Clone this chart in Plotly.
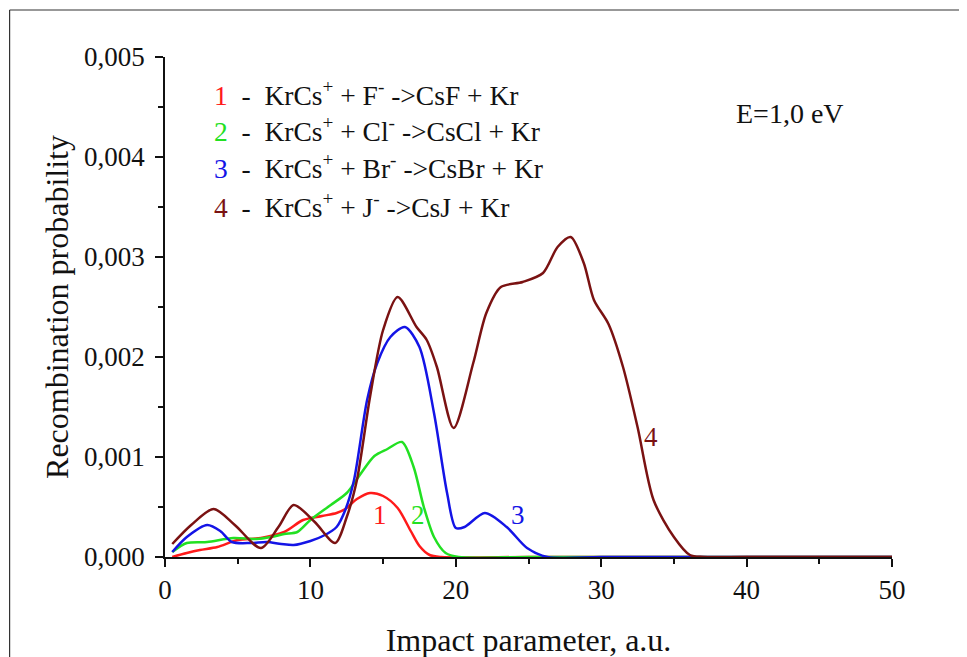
import plotly.graph_objects as go

# ---- data ----
x_f = [0.5, 1.5, 2.4, 3.6, 5.0, 6.6, 8.2, 9.5, 10.8, 11.8, 12.4, 13.2, 14.1, 15.0, 16.0, 16.9, 17.5, 18.2, 19.0, 25, 35, 50]
y_f = [0.0, 0.00004, 0.00007, 0.0001, 0.00017, 0.00019, 0.00025, 0.00037, 0.00041, 0.00044, 0.00048, 0.00058, 0.00064, 0.00061, 0.00049, 0.00026, 0.00011, 0.00002, 0.0, 0.0, 0.0, 0.0]

x_cl = [0.5, 1.5, 2.9, 4.7, 6.3, 7.3, 8.2, 9.1, 10.0, 11.4, 12.5, 13.4, 14.4, 15.3, 16.3, 17.1, 17.8, 18.5, 19.3, 20.2, 25, 35, 50]
y_cl = [0.00005, 0.00014, 0.00015, 0.00019, 0.00018, 0.0002, 0.00023, 0.00025, 0.00037, 0.00052, 0.00064, 0.00082, 0.00101, 0.00108, 0.00115, 0.0009, 0.0005, 0.0002, 0.00004, 0.0, 0.0, 0.0, 0.0]

x_br = [0.5, 1.5, 2.9, 3.8, 4.6, 5.9, 7.0, 8.0, 8.85, 10.0, 11.0, 11.8, 12.4, 13.0, 13.9, 14.6, 15.5, 16.5, 17.5, 18.5, 19.4, 20.0, 20.6, 22.0, 23.5, 24.9, 26.3, 30, 40, 50]
y_br = [0.00005, 0.0002, 0.00032, 0.00026, 0.00015, 0.00014, 0.00015, 0.00013, 0.00012, 0.00016, 0.00022, 0.0003, 0.00047, 0.00077, 0.00157, 0.00194, 0.0022, 0.0023, 0.0021, 0.00144, 0.00064, 0.00029, 0.0003, 0.00044, 0.0003, 0.00009, 0.0, 0.0, 0.0, 0.0]

x_j = [0.5, 1.8, 3.35, 4.8, 6.6, 7.8, 8.85, 10.3, 11.7, 12.5, 13.2, 14.1, 15.0, 16.0, 17.3, 18.0, 18.7, 19.85, 21.2, 22.1, 23.1, 24.6, 26.0, 27.0, 27.9, 28.8, 29.5, 30.5, 31.5, 32.5, 33.6, 35.0, 36.1, 37.0, 40, 50]
y_j = [0.00013, 0.00032, 0.00048, 0.00032, 0.00009, 0.0003, 0.00052, 0.00035, 0.00014, 0.0004, 0.00077, 0.0016, 0.00227, 0.0026, 0.0023, 0.00217, 0.0019, 0.00129, 0.00194, 0.00244, 0.0027, 0.00275, 0.00284, 0.0031, 0.0032, 0.00294, 0.00257, 0.00233, 0.0019, 0.0013, 0.00057, 0.0002, 0.00002, 0.0, 0.0, 0.0]

series = [
    ("1", x_f, y_f, "#FF1A1A"),
    ("2", x_cl, y_cl, "#22E022"),
    ("3", x_br, y_br, "#1414E6"),
    ("4", x_j, y_j, "#7A1212"),
]

legend_lines = [
    ("1", "KrCs<sup>+</sup> + F<sup>-</sup> ->CsF + Kr"),
    ("2", "KrCs<sup>+</sup> + Cl<sup>-</sup> ->CsCl + Kr"),
    ("3", "KrCs<sup>+</sup> + Br<sup>-</sup> ->CsBr + Kr"),
    ("4", "KrCs<sup>+</sup> + J<sup>-</sup> ->CsJ + Kr"),
]
legend_y = [0.00464, 0.00428, 0.00391, 0.00352]

curve_labels = [("1", 14.8, 0.00042), ("2", 17.4, 0.00042), ("3", 24.3, 0.00042), ("4", 33.4, 0.0012)]

x_ticks = [0, 10, 20, 30, 40, 50]
y_ticks = [0.0, 0.001, 0.002, 0.003, 0.004, 0.005]

FONT = "Liberation Serif, Times New Roman, serif"
OFF = 8  # default page body margin

fig = go.Figure()
for name, xs, ys, col in series:
    fig.add_trace(go.Scatter(x=xs, y=ys, mode="lines", name=name,
                             line=dict(color=col, width=2.5, shape="spline", smoothing=0.8),
                             showlegend=False, hoverinfo="skip"))

ann = []
col_map = {s[0]: s[3] for s in series}
for (num, txt), yy in zip(legend_lines, legend_y):
    ann.append(dict(x=3.26, y=yy, xref="x", yref="y", xanchor="left", yanchor="middle",
                    showarrow=False,
                    text=f'<span style="color:{col_map[num]}">{num}</span>\u00a0\u00a0-\u00a0\u00a0{txt}',
                    font=dict(family=FONT, size=27.5, color="#111111")))
for num, xx, yy in curve_labels:
    ann.append(dict(x=xx, y=yy, xref="x", yref="y", showarrow=False, text=num,
                    font=dict(family=FONT, size=27, color=col_map[num])))
ann.append(dict(x=43.0, y=0.00444, xref="x", yref="y", showarrow=False, text="E=1,0 eV",
                font=dict(family=FONT, size=28, color="#111111")))

# outer frame (left, right, top edges), in paper units of the plot area
PW, PH = 727.5, 500.0
def px_x(p):
    return (p - 164.5) / PW
def px_y(p):
    return (557 - p) / PH
frame_col = "#333333"
shapes = [
    dict(type="line", xref="paper", yref="paper", x0=px_x(9), x1=px_x(9), y0=px_y(10), y1=px_y(700),
         line=dict(color=frame_col, width=1.2)),
    dict(type="line", xref="paper", yref="paper", x0=px_x(962), x1=px_x(962), y0=px_y(10), y1=px_y(700),
         line=dict(color=frame_col, width=1.2)),
    dict(type="line", xref="paper", yref="paper", x0=px_x(9), x1=px_x(962), y0=px_y(10), y1=px_y(10),
         line=dict(color=frame_col, width=1.2)),
]

fig.update_layout(
    width=967, height=657,
    margin=dict(l=164.5 - OFF, r=75 + OFF, t=57 - OFF, b=100 + OFF),
    paper_bgcolor="white", plot_bgcolor="white",
    separators=", ",
    font=dict(family=FONT, color="#111111"),
    annotations=ann,
    shapes=shapes,
)
fig.update_xaxes(range=[0, 50], tickvals=x_ticks, ticktext=[str(v) for v in x_ticks],
                 showgrid=False, zeroline=False, showline=True, linecolor="#111111", linewidth=1.6,
                 ticks="outside", ticklen=8, tickwidth=1.6, tickcolor="#111111",
                 minor=dict(ticks="outside", dtick=5, ticklen=5, tickwidth=1.6, tickcolor="#111111"),
                 tickfont=dict(family=FONT, size=27, color="#111111"),
                 title=dict(text="Impact parameter, a.u.", font=dict(family=FONT, size=32, color="#111111"), standoff=24),
                 layer="below traces")
fig.update_yaxes(range=[0, 0.005], tickvals=y_ticks, tickformat=".3f",
                 showgrid=False, zeroline=False, showline=True, linecolor="#111111", linewidth=1.6,
                 ticks="outside", ticklen=8, tickwidth=1.6, tickcolor="#111111",
                 minor=dict(ticks="outside", dtick=0.0005, ticklen=5, tickwidth=1.6, tickcolor="#111111"),
                 tickfont=dict(family=FONT, size=27, color="#111111"),
                 ticklabelstandoff=5,
                 title=dict(text="Recombination probability", font=dict(family=FONT, size=32, color="#111111"), standoff=6),
                 layer="below traces")

fig.write_html("out.html")
